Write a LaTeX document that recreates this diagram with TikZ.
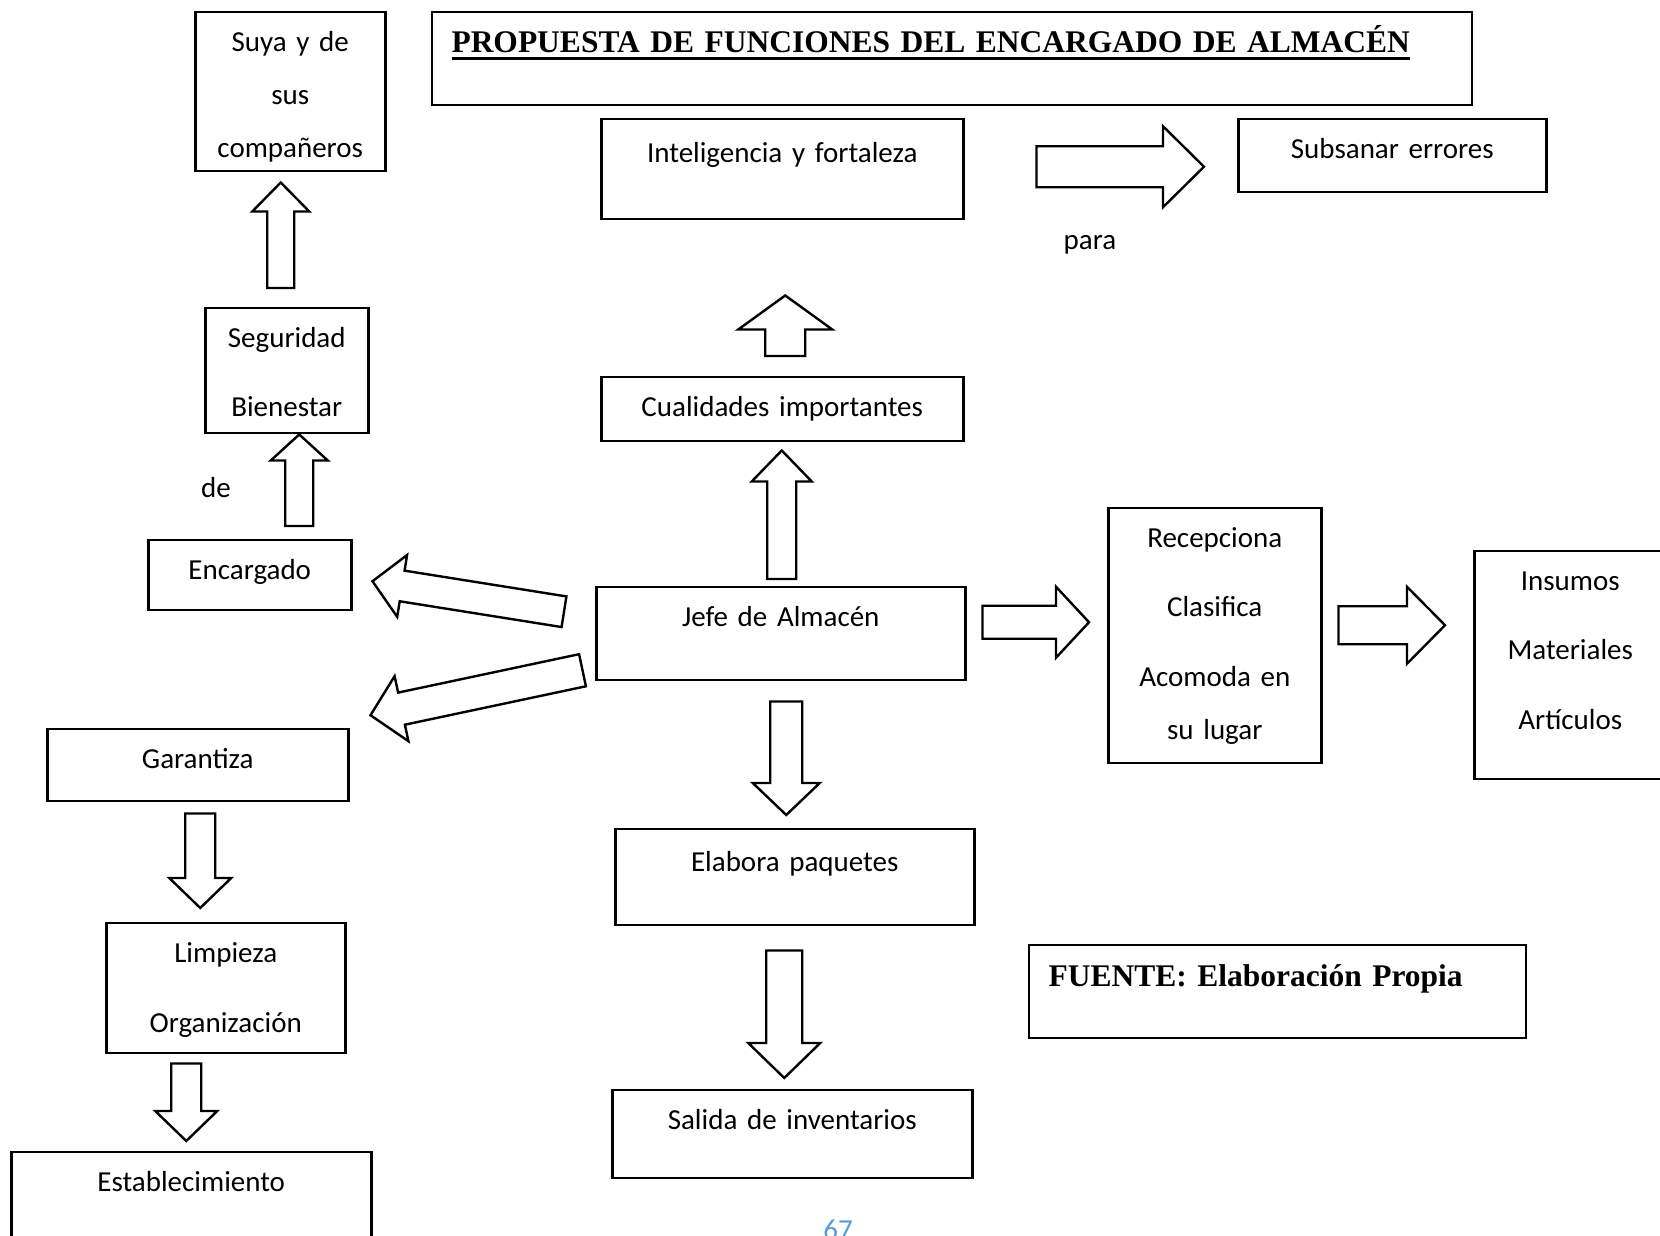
\documentclass[tikz,border=0pt]{standalone}
\usepackage{fontspec}
\setmainfont{Carlito}
\newfontfamily\titlefont{Liberation Serif}
\usetikzlibrary{calc}
\definecolor{pagenum}{HTML}{5B9BD5}
\newcommand{\subrayado}[1]{\setbox0\hbox{#1}\rlap{\copy0}\vrule width\wd0 height -4pt depth 7pt}

\tikzset{
  caja/.style={draw, line width=2.5pt, anchor=north west, align=center, inner sep=0pt,
    text height=39pt, font=\fontsize{29}{53}\selectfont},
  rotulo/.style={draw, line width=2pt, anchor=north west, align=left, inner xsep=19.5pt,
    inner ysep=0pt, font=\titlefont\bfseries\fontsize{31.5}{38}\selectfont},
  % block arrow: shaft half width / head half width / head length
  bloque/.style n args={3}{draw, line width=2.4pt, fill=white, to path={
    let \p1=($(\tikztotarget)-(\tikztostart)$), \n1={atan2(\y1,\x1)}, \n2={veclen(\x1,\y1)-#3} in
    ($(\tikztostart)+(\n1+90:#1)$) -- ($(\tikztostart)+(\n1:\n2)+(\n1+90:#1)$)
    -- ($(\tikztostart)+(\n1:\n2)+(\n1+90:#2)$) -- (\tikztotarget)
    -- ($(\tikztostart)+(\n1:\n2)+(\n1-90:#2)$) -- ($(\tikztostart)+(\n1:\n2)+(\n1-90:#1)$)
    -- ($(\tikztostart)+(\n1-90:#1)$) -- cycle}},
}

\begin{document}
\begin{tikzpicture}[x=1pt,y=1pt]
    \useasboundingbox (0,0) rectangle (1660,1236);
    \path
    (431,1225) node[rotulo, text width=1001pt, text height=41pt, text depth=52pt](titulo) {\subrayado{PROPUESTA DE FUNCIONES DEL ENCARGADO DE ALMACÉN}}
    (1028,292) node[rotulo, text width=458pt, text height=42pt, text depth=51pt](fuente) {FUENTE: Elaboración Propia}
    (194,1225) node[caja, text width=190pt, text depth=120pt](suya) {Suya y de\\sus\\compañeros}
    (204,929) node[caja, text width=163pt, text depth=86pt](seguridad) {Seguridad\\[16pt]Bienestar}
    (147,697) node[caja, text width=203pt, text depth=31pt](encargado) {Encargado}
    (46,508) node[caja, text width=301pt, text depth=33pt](garantiza) {Garantiza}
    (105,314) node[caja, text width=239pt, text depth=91pt](limpieza) {Limpieza\\[17pt]Organización}
    (10,85) node[caja, text width=360pt, text depth=71pt](establec) {Establecimiento}
    (600,1118) node[caja, text width=362pt, text height=43pt, text depth=57pt](intel) {Inteligencia y fortaleza}
    (1237,1118) node[caja, text width=308pt, text depth=34pt](subsanar) {Subsanar errores}
    (600,860) node[caja, text width=362pt, text depth=25pt](cualidades) {Cualidades importantes}
    (595,650) node[caja, text width=369pt, text depth=54pt](jefe) {Jefe de Almacén}
    (614,408) node[caja, text width=359pt, text height=42pt, text depth=54pt](elabora) {Elabora paquetes}
    (611,147) node[caja, text width=360pt, text depth=49pt](salida) {Salida de inventarios}
    (1107,729) node[caja, text width=213pt, text depth=216pt](recepciona) {Recepciona\\[16pt]Clasifica\\[17pt]Acomoda en\\su lugar}
    (1473,686) node[caja, text width=192pt, text depth=189pt](insumos) {Insumos\\[16pt]Materiales\\[17pt]Artículos};

    \path
    (1090,986) node[anchor=base, font=\fontsize{29}{35}\selectfont](para) {para}
    (216,738) node[anchor=base, font=\fontsize{29}{35}\selectfont](de) {de}
    (838,-4) node[anchor=base, text=pagenum, font=\fontsize{29}{35}\selectfont](pagina) {67};

    \draw[bloque={13.5}{28.5}{29}] ($(seguridad.north)+(-6,19)$) to ($(suya.south)+(-9.5,-10)$);
    \draw[bloque={14}{28.5}{26}] ($(encargado.north)+(49.5,13)$) to ($(seguridad.south)+(12.5,0)$);
    \draw[bloque={20}{47}{34}] ($(cualidades.north)+(3,20)$) to ($(intel.south)+(3,-75)$);
    \draw[bloque={14.5}{30}{31}] ($(jefe.north)+(1,7)$) to ($(cualidades.south)+(-0.5,-8)$);
    \draw[bloque={20.5}{40.5}{41}] ($(intel.east)+(72,2.5)$) to ($(subsanar.west)+(-33,-11)$);
    \draw[bloque={16.5}{35.5}{33}] ($(jefe.east)+(16,11.5)$) to ($(recepciona.west)+(-18,13.5)$);
    \draw[bloque={19}{38.5}{38}] ($(recepciona.east)+(16,10.5)$) to ($(insumos.west)+(-28,40)$);
    \draw[bloque={16}{33.5}{32}] ($(jefe.south)+(5.5,-20)$) to ($(elabora.north)+(-8.5,13)$);
    \draw[bloque={18}{36}{35}] ($(elabora.south)+(-10.5,-24)$) to ($(salida.north)+(-8,11)$);
    \draw[bloque={15}{31}{30}] ($(garantiza.south)+(2.5,-11)$) to ($(limpieza.north)+(-25.5,14)$);
    \draw[bloque={15}{31}{30}] ($(limpieza.south)+(-39.5,-9)$) to ($(establec.north)+(-5,10)$);
    \draw[bloque={15.5}{31.3}{30}] ($(jefe.west)+(-31,22)$) to ($(encargado.east)+(20,-6)$);
    \draw[bloque={16.4}{33.2}{31.7}] ($(jefe.west)+(-12.5,-36.5)$) to ($(garantiza.east)+(21,50)$);
\end{tikzpicture}
\end{document}
